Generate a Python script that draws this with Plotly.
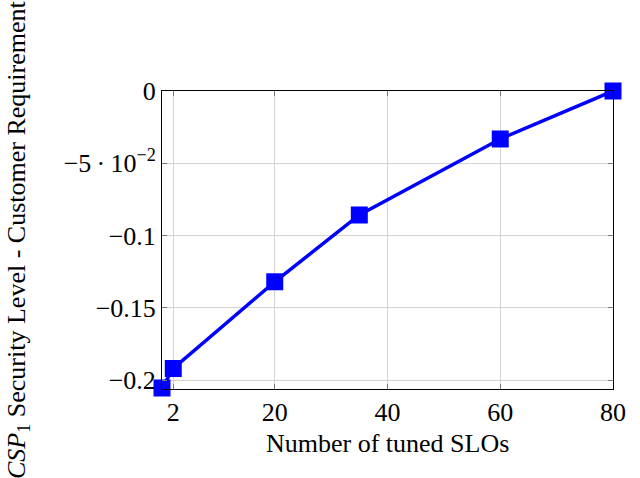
import plotly.graph_objects as go

x_vals = [0, 2, 20, 35, 60, 80]
y_vals = [-0.2055, -0.192, -0.132, -0.0858, -0.0332, 0.0]

x_ticks = [2, 20, 40, 60, 80]
x_ticktext = ["2", "20", "40", "60", "80"]
y_ticks = [0, -0.05, -0.1, -0.15, -0.2]
y_ticktext = ["0", "−5\u2009·\u200910<sup>−2</sup>", "−0.1", "−0.15", "−0.2"]

font = "Liberation Serif, Times New Roman, serif"
fsize = 26

fig = go.Figure()
fig.add_trace(go.Scatter(
    x=x_vals, y=y_vals, mode="lines+markers",
    line=dict(color="#0000ff", width=3.5),
    marker=dict(symbol="square", size=17, color="#0000ff"),
    cliponaxis=False, showlegend=False,
))

axis_common = dict(
    showline=True, linecolor="black", linewidth=1, mirror="allticks",
    ticks="inside", ticklen=5, tickcolor="#777777", tickwidth=1,
    showgrid=True, gridcolor="#d3d3d3", gridwidth=1, zeroline=False,
    tickfont=dict(family=font, size=fsize, color="black"),
)

fig.update_xaxes(range=[0, 80], tickvals=x_ticks, ticktext=x_ticktext, **axis_common)
fig.update_yaxes(range=[-0.2062, 0], tickvals=y_ticks, ticktext=y_ticktext, **axis_common)

fig.add_annotation(
    text="Number of tuned SLOs", xref="paper", yref="paper", x=0.5, y=0,
    yshift=-54, xanchor="center", yanchor="middle", showarrow=False,
    font=dict(family=font, size=fsize, color="black"),
)
fig.add_annotation(
    text="<i>CSP</i><sub>1</sub> Security Level - Customer Requirement",
    xref="paper", yref="paper", x=0, y=0.5, xshift=-144,
    xanchor="center", yanchor="middle", textangle=-90, showarrow=False,
    font=dict(family=font, size=fsize, color="black"),
)

fig.update_layout(
    width=640, height=478,
    margin=dict(l=162, r=27, t=91, b=89),
    paper_bgcolor="white", plot_bgcolor="white",
)

fig.write_html("out.html")
